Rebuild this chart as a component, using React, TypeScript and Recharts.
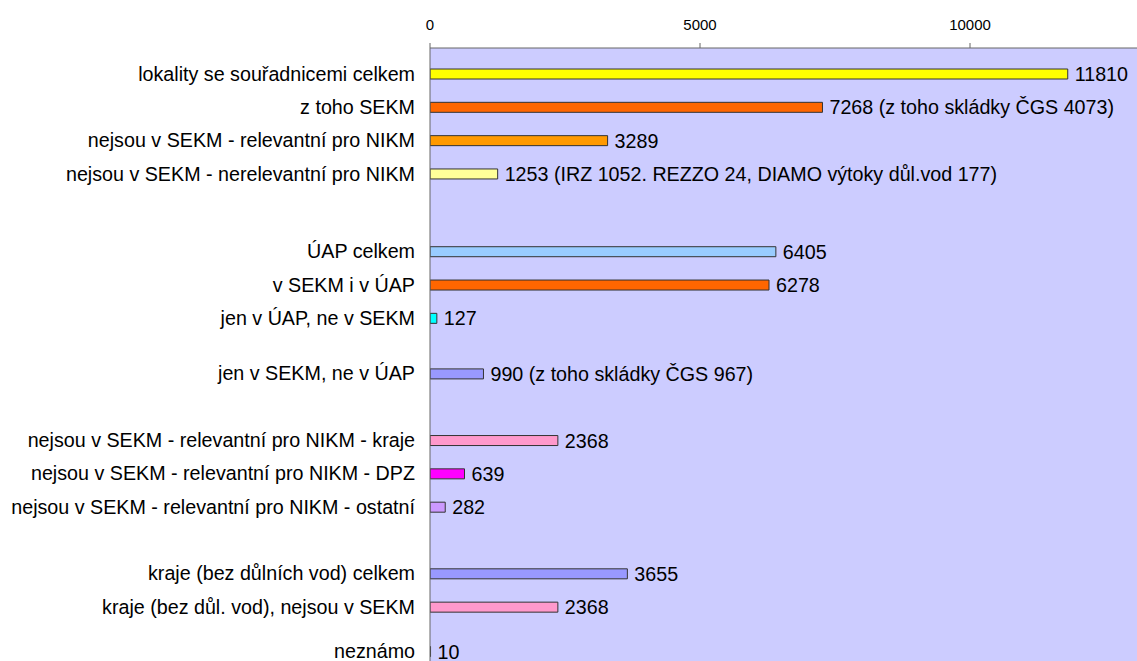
import React from 'react';
import { BarChart, Bar, XAxis, YAxis, CartesianGrid, Cell, LabelList } from 'recharts';

const categories = [
  'lokality se souřadnicemi celkem',
  'z toho SEKM',
  'nejsou v SEKM - relevantní pro NIKM',
  'nejsou v SEKM - nerelevantní pro NIKM',
  'ÚAP celkem',
  'v SEKM i v ÚAP',
  'jen v ÚAP, ne v SEKM',
  'jen v SEKM, ne v ÚAP',
  'nejsou v SEKM - relevantní pro NIKM - kraje',
  'nejsou v SEKM - relevantní pro NIKM - DPZ',
  'nejsou v SEKM - relevantní pro NIKM - ostatní',
  'kraje (bez důlních vod) celkem',
  'kraje (bez důl. vod), nejsou v SEKM',
  'neznámo',
];

const values = [11810, 7268, 3289, 1253, 6405, 6278, 127, 990, 2368, 639, 282, 3655, 2368, 10];

const valueNotes = [
  '',
  ' (z toho skládky ČGS 4073)',
  '',
  ' (IRZ 1052. REZZO 24, DIAMO výtoky důl.vod 177)',
  '',
  '',
  '',
  ' (z toho skládky ČGS 967)',
  '',
  '',
  '',
  '',
  '',
  '',
];

const barColors = [
  '#FFFF00',
  '#FF6600',
  '#FF9900',
  '#FFFF99',
  '#99CCFF',
  '#FF6600',
  '#00FFFF',
  '#9999FF',
  '#FF99CC',
  '#FF00FF',
  '#CC99FF',
  '#9999FF',
  '#FF99CC',
  '#9999FF',
];

// empty category slots (blank rows) placed before each category
const blankSlotsBefore = [0, 2, 2, 2, 6, 2, 2, 4, 5, 2, 2, 5, 2, 3];
const trailingBlankSlots = 3;

const xTicks = [0, 5000, 10000];

type Row = { key: string; label: string; value: number | null; text: string; color: string };

const rows: Row[] = [];
categories.forEach((label, i) => {
  for (let g = 0; g < blankSlotsBefore[i]; g++) {
    rows.push({ key: `gap-${i}-${g}`, label: '', value: null, text: '', color: 'none' });
  }
  rows.push({ key: `row-${i}`, label, value: values[i], text: `${values[i]}${valueNotes[i]}`, color: barColors[i] });
});
for (let g = 0; g < trailingBlankSlots; g++) {
  rows.push({ key: `gap-end-${g}`, label: '', value: null, text: '', color: 'none' });
}
const labelOf: Record<string, string> = Object.fromEntries(rows.map((r) => [r.key, r.label]));

const FONT = '"Liberation Sans", Arial, sans-serif';

const ValueLabel = (props: any) => {
  const { x, y, width, height, value } = props;
  if (!value) return null;
  return (
    <text
      x={Number(x) + Number(width) + 7}
      y={Number(y) + Number(height) / 2}
      dominantBaseline="central"
      fontSize={19.7}
      fontFamily={FONT}
      fill="#000"
    >
      {value}
    </text>
  );
};

export default function App() {
  return (
    <div style={{ position: 'fixed', left: 0, top: 0, width: 1137, height: 661, overflow: 'hidden', background: '#fff' }}>
      <BarChart
        width={1240}
        height={690}
        data={rows}
        layout="vertical"
        margin={{ top: 0, right: 0, bottom: 0, left: 0 }}
        barCategoryGap={0}
        style={{ fontFamily: FONT }}
      >
        <CartesianGrid fill="#CCCCFF" horizontal={false} vertical={false} stroke="none" />
        <XAxis
          type="number"
          orientation="top"
          domain={[0, 15000]}
          ticks={xTicks}
          height={48}
          tickSize={5}
          tickMargin={13}
          stroke="#666"
          tick={{ fontSize: 15, fill: '#000', fontFamily: FONT }}
          allowDataOverflow
        />
        <YAxis
          type="category"
          dataKey="key"
          width={430}
          interval={0}
          tickLine={false}
          tickMargin={9}
          tickSize={6}
          stroke="#666"
          padding={{ top: 20, bottom: 0 }}
          tickFormatter={(v: string) => labelOf[v] ?? ''}
          tick={{ fontSize: 19.7, fill: '#000', fontFamily: FONT }}
        />
        <Bar dataKey="value" barSize={10} stroke="#333" strokeWidth={1} isAnimationActive={false}>
          {rows.map((r) => (
            <Cell key={r.key} fill={r.color} />
          ))}
          <LabelList dataKey="text" content={ValueLabel} />
        </Bar>
      </BarChart>
    </div>
  );
}
